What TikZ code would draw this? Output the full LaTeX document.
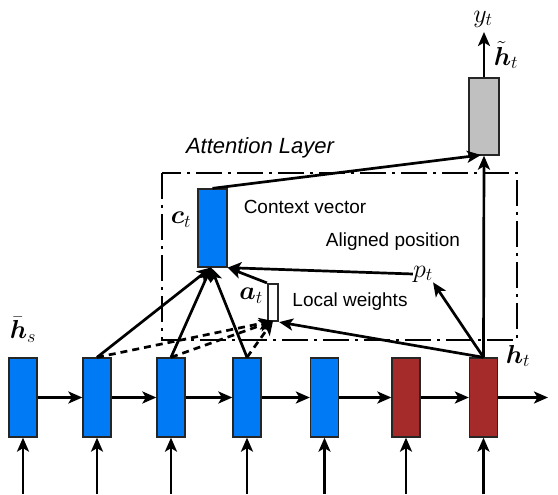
\RequirePackage{fix-cm}
\documentclass[tikz,border=0pt]{standalone}
\usepackage{fontspec}
\usepackage{amsmath}
\usepackage{bm}
\newfontfamily\labfont{Liberation Sans}
\usetikzlibrary{arrows.meta}
\definecolor{rnnblue}{RGB}{0,122,245}
\definecolor{rnnred}{RGB}{165,42,42}
\definecolor{outgray}{RGB}{192,192,192}
\begin{document}
\begin{tikzpicture}[x=1pt,y=-1pt,
  cell/.style={draw=black!85, line width=1.3pt, minimum width=28pt, minimum height=79pt, inner sep=0pt},
  conn/.style={line width=2.7pt, -{Stealth[length=14pt,width=12pt,inset=3.5pt]}},
  dconn/.style={conn, dash pattern=on 7pt off 5pt},
  lab/.style={font=\labfont\fontsize{19}{22}\selectfont, inner sep=0pt},
  mlab/.style={font=\fontsize{26}{30}\selectfont, inner sep=0pt}]
\useasboundingbox (0,0) rectangle (558,495);
% attention layer box
\draw[line width=2.4pt, dash pattern=on 26pt off 6pt on 3pt off 6pt] (162,173) rectangle (517,340);
\node[lab, font=\labfont\itshape\fontsize{22}{25}\selectfont] (attl) at (260,148) {Attention Layer};
% encoder / decoder cells
\node[cell, fill=rnnblue] (b1) at (23,397.5) {};
\node[cell, fill=rnnblue] (b2) at (97,397.5) {};
\node[cell, fill=rnnblue] (b3) at (171,397.5) {};
\node[cell, fill=rnnblue] (b4) at (247,397.5) {};
\node[cell, fill=rnnblue] (b5) at (324.5,397.5) {};
\node[cell, fill=rnnred] (b6) at (406,397.5) {};
\node[cell, fill=rnnred] (b7) at (483.5,397.5) {};
% output cell
\node[cell, fill=outgray, minimum width=30pt, minimum height=77pt] (g) at (484,116.5) {};
% context vector
\node[cell, fill=rnnblue, minimum width=29pt, minimum height=78pt] (ct) at (212.5,228) {};
% local weights
\node[cell, fill=white, line width=2.2pt, minimum width=10pt, minimum height=37pt] (at) at (273,302.5) {};
% inputs
\foreach \i/\x in {1/23,2/97,3/171,4/247,5/324.5,6/406,7/483.5}{
  \coordinate (in\i) at (\x,494);
  \draw[conn] (in\i) -- (b\i.south);
}
% recurrences
\foreach \i/\j in {1/2,2/3,3/4,4/5,5/6,6/7}{
  \draw[conn] (b\i.east) -- (b\j.west);
}
\coordinate (outr) at (548,397.5);
\draw[conn] (b7.east) -- (outr);
% labels
\node[mlab] (hs) at (23,330) {$\bar{\bm h}_s$};
\node[mlab] (ht) at (518,356) {$\bm h_t$};
\node[mlab] (ctl) at (181,220) {$\bm c_t$};
\node[mlab] (atl) at (251,296) {$\bm a_t$};
\node[mlab] (pt) at (423,274) {$p_t$};
\node[mlab] (yt) at (483,19) {$y_t$};
\node[mlab] (htl) at (506,55) {$\tilde{\bm h}_t$};
\node[lab] (cvl) at (305,207) {Context vector};
\node[lab] (apl) at (393,242) {Aligned position};
\node[lab] (lwl) at (350,302) {Local weights};
% output
\coordinate (ytop) at (484,32);
\draw[conn] (g.north) -- (ytop);
\draw[conn] (b7.north) -- (g.south);
\coordinate (gin) at (481,155);
\draw[conn] (ct.north) -- (gin);
% to context
\coordinate (ctb) at (211,267.5);
\draw[conn] (b2.north) -- (ctb);
\draw[conn] (b3.north) -- (ctb);
\draw[conn] (b4.north) -- (ctb);
\draw[conn] (at.north west) -- (ct.south east);
\draw[conn] (pt.west) -- (ct.south east);
\draw[conn] (b7.north) -- (pt.south east);
% to weights
\coordinate (atb) at (273,321);
\draw[conn] (b7.north) -- (at.south east);
\draw[dconn] (b2.north) -- (atb);
\draw[dconn] (b3.north) -- (atb);
\draw[dconn] (b4.north) -- (atb);
\end{tikzpicture}
\end{document}
